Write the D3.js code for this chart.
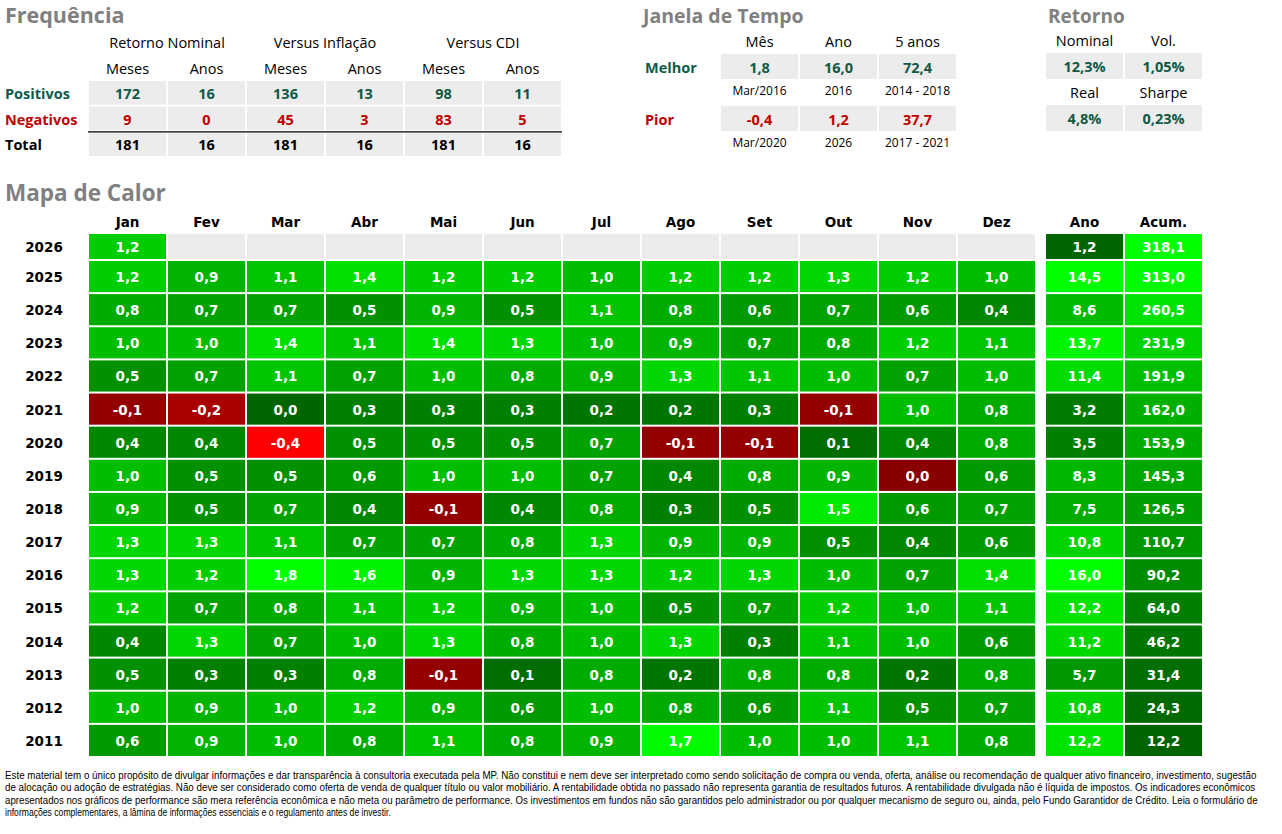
<!DOCTYPE html>
<html>
<head>
<meta charset="utf-8">
<script src="https://cdn.jsdelivr.net/npm/d3@7"></script>
<style>
  body { margin: 0; background: #fff; }
  svg { display: block; }
</style>
</head>
<body>
<svg id="chart" width="1282" height="834"></svg>
<script>
// ---------------- DATA ----------------
const months = ["Jan","Fev","Mar","Abr","Mai","Jun","Jul","Ago","Set","Out","Nov","Dez"];
const years = [2026,2025,2024,2023,2022,2021,2020,2019,2018,2017,2016,2015,2014,2013,2012,2011];
const monthly = [
  [1.2,null,null,null,null,null,null,null,null,null,null,null],
  [1.2,0.9,1.1,1.4,1.2,1.2,1.0,1.2,1.2,1.3,1.2,1.0],
  [0.8,0.7,0.7,0.5,0.9,0.5,1.1,0.8,0.6,0.7,0.6,0.4],
  [1.0,1.0,1.4,1.1,1.4,1.3,1.0,0.9,0.7,0.8,1.2,1.1],
  [0.5,0.7,1.1,0.7,1.0,0.8,0.9,1.3,1.1,1.0,0.7,1.0],
  [-0.1,-0.2,0.0,0.3,0.3,0.3,0.2,0.2,0.3,-0.1,1.0,0.8],
  [0.4,0.4,-0.4,0.5,0.5,0.5,0.7,-0.1,-0.1,0.1,0.4,0.8],
  [1.0,0.5,0.5,0.6,1.0,1.0,0.7,0.4,0.8,0.9,-0.04,0.6],
  [0.9,0.5,0.7,0.4,-0.1,0.4,0.8,0.3,0.5,1.5,0.6,0.7],
  [1.3,1.3,1.1,0.7,0.7,0.8,1.3,0.9,0.9,0.5,0.4,0.6],
  [1.3,1.2,1.8,1.6,0.9,1.3,1.3,1.2,1.3,1.0,0.7,1.4],
  [1.2,0.7,0.8,1.1,1.2,0.9,1.0,0.5,0.7,1.2,1.0,1.1],
  [0.4,1.3,0.7,1.0,1.3,0.8,1.0,1.3,0.3,1.1,1.0,0.6],
  [0.5,0.3,0.3,0.8,-0.1,0.1,0.8,0.2,0.8,0.8,0.2,0.8],
  [1.0,0.9,1.0,1.2,0.9,0.6,1.0,0.8,0.6,1.1,0.5,0.7],
  [0.6,0.9,1.0,0.8,1.1,0.8,0.9,1.7,1.0,1.0,1.1,0.8]
];
const anoValues = [1.2,14.5,8.6,13.7,11.4,3.2,3.5,8.3,7.5,10.8,16.0,12.2,11.2,5.7,10.8,12.2];
const acumValues = [318.1,313.0,260.5,231.9,191.9,162.0,153.9,145.3,126.5,110.7,90.2,64.0,46.2,31.4,24.3,12.2];
const summaryCols = ["Ano","Acum."];

// Frequência
const freqGroups = ["Retorno Nominal","Versus Inflação","Versus CDI"];
const freqSub = ["Meses","Anos","Meses","Anos","Meses","Anos"];
const freqRows = ["Positivos","Negativos","Total"];
const freqPositivos = [172,16,136,13,98,11];
const freqNegativos = [9,0,45,3,83,5];
const freqTotal = [181,16,181,16,181,16];

// Janela de Tempo
const janelaCols = ["Mês","Ano","5 anos"];
const janelaMelhor = ["1,8","16,0","72,4"];
const janelaMelhorPeriodo = ["Mar/2016","2016","2014 - 2018"];
const janelaPior = ["-0,4","1,2","37,7"];
const janelaPiorPeriodo = ["Mar/2020","2026","2017 - 2021"];

// Retorno
const retornoLabels1 = ["Nominal","Vol."];
const retornoValues1 = ["12,3%","1,05%"];
const retornoLabels2 = ["Real","Sharpe"];
const retornoValues2 = ["4,8%","0,23%"];

const disclaimer = [
  "Este material tem o único propósito de divulgar informações e dar transparência à consultoria executada pela MP. Não constitui e nem deve ser interpretado como sendo solicitação de compra ou venda, oferta, análise ou recomendação de qualquer ativo financeiro, investimento, sugestão",
  "de alocação ou adoção de estratégias. Não deve ser considerado como oferta de venda de qualquer título ou valor mobiliário. A rentabilidade obtida no passado não representa garantia de resultados futuros. A rentabilidade divulgada não é líquida de impostos. Os indicadores econômicos",
  "apresentados nos gráficos de performance são mera referência econômica e não meta ou parâmetro de performance. Os investimentos em fundos não são garantidos pelo administrador ou por qualquer mecanismo de seguro ou, ainda, pelo Fundo Garantidor de Crédito. Leia o formulário de",
  "informações complementares, a lâmina de informações essenciais e o regulamento antes de investir."
];
const disclaimerWidths = [1253, 1251, 1254, 386];

// ---------------- STYLE ----------------
const svg = d3.select("#chart");
const TITLE_FONT = "'Open Sans', 'Liberation Sans', sans-serif";
const LABEL_FONT = "'Open Sans', 'Liberation Sans', sans-serif";
const CELL_FONT = "'DejaVu Sans', Verdana, sans-serif";
const GRAY = "#ececec";
const DKGREEN = "#0f5a46";
const RED = "#c00000";
const fmt = v => (Math.abs(v) < 0.05 ? 0 : v).toFixed(1).replace(".", ",");

function title(txt, x, y, size) {
  svg.append("text").attr("x", x).attr("y", y)
    .attr("font-family", TITLE_FONT).attr("font-weight", "bold")
    .attr("font-size", size).attr("fill", "#808080").text(txt);
}
function label(txt, x, y, opts = {}) {
  return svg.append("text").attr("x", x).attr("y", y)
    .attr("text-anchor", opts.anchor || "middle")
    .attr("dominant-baseline", "central")
    .attr("font-family", opts.font || LABEL_FONT)
    .attr("font-weight", opts.bold ? "bold" : "normal")
    .attr("font-size", opts.size || 14.5)
    .attr("fill", opts.fill || "#000").text(txt);
}

// ---------------- FREQUÊNCIA ----------------
title("Frequência", 5, 23, 21.5);
const fx = d3.scaleBand().domain(d3.range(6)).range([88, 562]);
freqGroups.forEach((g, i) => {
  const cx = (fx(i * 2) + fx(i * 2 + 1) + fx.bandwidth()) / 2;
  label(g, cx, 42);
});
freqSub.forEach((s, i) => label(s, fx(i) + fx.bandwidth() / 2, 68));
const fy = d3.scaleBand().domain(freqRows).range([80, 157]);
const freqData = [freqPositivos, freqNegativos, freqTotal];
const freqColors = [DKGREEN, RED, "#000"];
freqRows.forEach((r, ri) => {
  const yTop = fy(r);
  label(r, 5, yTop + fy.bandwidth() / 2 + 0.5, {anchor: "start", bold: true, fill: freqColors[ri], size: 14.5});
  freqData[ri].forEach((v, ci) => {
    svg.append("rect").attr("x", fx(ci) + 1).attr("y", yTop + 1)
      .attr("width", fx.bandwidth() - 2).attr("height", fy.bandwidth() - 2).attr("fill", GRAY);
    label(String(v), fx(ci) + fx.bandwidth() / 2, yTop + fy.bandwidth() / 2 + 0.5,
      {bold: true, fill: freqColors[ri], size: 14.5});
  });
});
svg.append("line").attr("x1", 88).attr("x2", 562)
  .attr("y1", fy("Total") + 0.5).attr("y2", fy("Total") + 0.5)
  .attr("stroke", "#000").attr("stroke-width", 1.3);

// ---------------- JANELA DE TEMPO ----------------
title("Janela de Tempo", 643, 23, 19.5);
const jx = d3.scaleBand().domain(janelaCols).range([720, 957]);
janelaCols.forEach(c => label(c, jx(c) + jx.bandwidth() / 2, 41));
function janelaRow(name, color, vals, periods, yTop) {
  label(name, 645, yTop + 13, {anchor: "start", bold: true, fill: color});
  janelaCols.forEach((c, i) => {
    svg.append("rect").attr("x", jx(c) + 1).attr("y", yTop)
      .attr("width", jx.bandwidth() - 2).attr("height", 25).attr("fill", GRAY);
    label(vals[i], jx(c) + jx.bandwidth() / 2, yTop + 13, {bold: true, fill: color});
    label(periods[i], jx(c) + jx.bandwidth() / 2, yTop + 36, {size: 12});
  });
}
janelaRow("Melhor", DKGREEN, janelaMelhor, janelaMelhorPeriodo, 54);
janelaRow("Pior", RED, janelaPior, janelaPiorPeriodo, 106);

// ---------------- RETORNO ----------------
title("Retorno", 1048, 23, 19);
const rx = d3.scaleBand().domain([0, 1]).range([1045, 1203]);
function retornoBlock(labels, vals, yLab, yTop) {
  labels.forEach((l, i) => label(l, rx(i) + rx.bandwidth() / 2, yLab));
  vals.forEach((v, i) => {
    svg.append("rect").attr("x", rx(i) + 1).attr("y", yTop)
      .attr("width", rx.bandwidth() - 2).attr("height", 26).attr("fill", GRAY);
    label(v, rx(i) + rx.bandwidth() / 2, yTop + 13.5, {bold: true, fill: DKGREEN});
  });
}
retornoBlock(retornoLabels1, retornoValues1, 40, 53);
retornoBlock(retornoLabels2, retornoValues2, 92, 105);

// ---------------- MAPA DE CALOR ----------------
title("Mapa de Calor", 5, 201, 22.5);
const x = d3.scaleBand().domain(months).range([88, 1036]);
const xs = d3.scaleBand().domain(summaryCols).range([1045, 1203]);
const yMain = d3.scaleBand().domain(years.slice(1)).range([260, 757]);
const firstRow = {top: 233, h: 27};
const rowTop = yr => yr === years[0] ? firstRow.top : yMain(yr);
const rowH = yr => yr === years[0] ? firstRow.h : yMain.bandwidth();

const greenScale = d3.scaleLinear().domain([0, 1.75]).range(["#006400", "#00ff00"]).clamp(true);
const redScale = d3.scaleLinear().domain([-0.4, -0.2, 0]).range(["#ff0000", "#a80000", "#800000"]).clamp(true);
const cellColor = v => v < 0 ? redScale(v) : greenScale(v);
const anoScale = d3.scaleLinear().domain([d3.min(anoValues), 14.5]).range(["#006400", "#00ff00"]).clamp(true);
const acumScale = d3.scaleLinear().domain([d3.min(acumValues), d3.max(acumValues)]).range(["#006400", "#00ff00"]);

const headStyle = {bold: true, font: CELL_FONT, size: 13.5};
const cellStyle = {bold: true, font: CELL_FONT, size: 13.5, fill: "#fff"};
months.forEach(m => label(m, x(m) + x.bandwidth() / 2, 222, headStyle));
summaryCols.forEach(c => label(c, xs(c) + xs.bandwidth() / 2, 222, headStyle));

years.forEach((yr, ri) => {
  const t = rowTop(yr), h = rowH(yr);
  label(String(yr), 44, t + h / 2 + 0.5, headStyle);
  months.forEach((m, ci) => {
    const v = monthly[ri][ci];
    svg.append("rect").attr("x", x(m) + 1).attr("y", t + 1)
      .attr("width", x.bandwidth() - 2).attr("height", h - 2)
      .attr("fill", v === null ? GRAY : cellColor(v));
    if (v !== null) label(fmt(v), x(m) + x.bandwidth() / 2, t + h / 2 + 0.5, cellStyle);
  });
  [[anoValues[ri], anoScale], [acumValues[ri], acumScale]].forEach(([v, sc], k) => {
    const c = summaryCols[k];
    svg.append("rect").attr("x", xs(c) + 1).attr("y", t + 1)
      .attr("width", xs.bandwidth() - 2).attr("height", h - 2).attr("fill", sc(v));
    label(fmt(v), xs(c) + xs.bandwidth() / 2, t + h / 2 + 0.5, cellStyle);
  });
});

// ---------------- DISCLAIMER ----------------
disclaimer.forEach((line, i) => {
  const baseY = 779 + i * 12.3;
  const t = svg.append("text").attr("x", 0).attr("y", 0)
    .attr("font-family", "'Liberation Sans Narrow', 'Arial Narrow', 'Liberation Sans', sans-serif")
    .attr("font-size", 10).attr("fill", "#000")
    .text(line);
  const natural = t.node().getComputedTextLength();
  const sx = disclaimerWidths[i] / natural;
  t.attr("transform", `translate(5,${baseY}) scale(${sx},1)`);
});
</script>
</body>
</html>
